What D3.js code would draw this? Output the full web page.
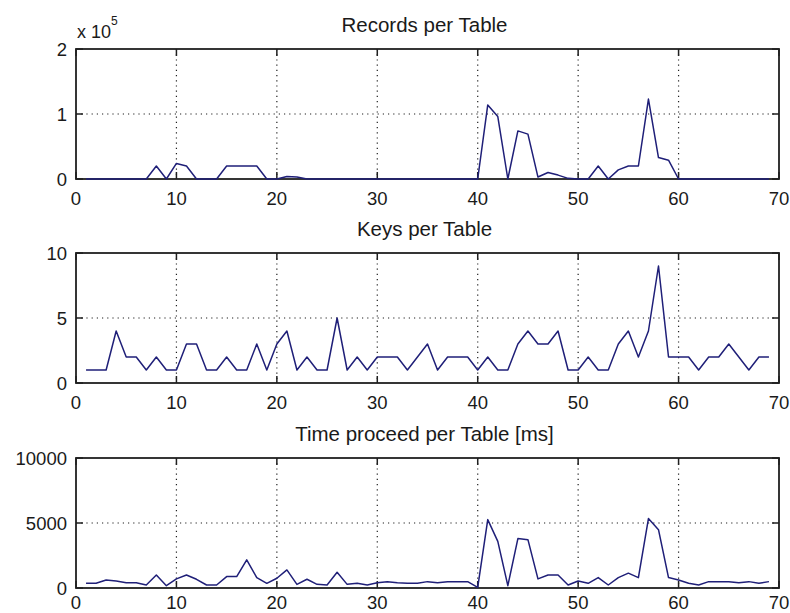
<!DOCTYPE html>
<html>
<head>
<meta charset="utf-8">
<script src="https://cdn.jsdelivr.net/npm/d3@7"></script>
<style>
  body { margin: 0; background: #fff; }
  text { font-family: "Liberation Sans", Arial, sans-serif; fill: #1a1a1a; }
</style>
</head>
<body>
<svg id="chart" width="790" height="613"></svg>
<script>
// table index on the x axis
const tableIds = [
  1, 2, 3, 4, 5, 6, 7, 8, 9, 10, 11, 12, 13, 14, 15, 16, 17, 18, 19, 20,
  21, 22, 23, 24, 25, 26, 27, 28, 29, 30, 31, 32, 33, 34, 35, 36, 37, 38, 39, 40,
  41, 42, 43, 44, 45, 46, 47, 48, 49, 50, 51, 52, 53, 54, 55, 56, 57, 58, 59, 60,
  61, 62, 63, 64, 65, 66, 67, 68, 69
];

const recordsPerTable = [
  0, 0, 0, 0, 0, 0, 0, 20000, 0, 24000,
  20000, 0, 0, 0, 20000, 20000, 20000, 20000, 0, 0,
  4000, 3000, 0, 0, 0, 0, 0, 0, 0, 0,
  0, 0, 0, 0, 0, 0, 0, 0, 0, 0,
  114000, 96000, 0, 74000, 69000, 3000, 10000, 6000, 1000, 0,
  0, 20000, 0, 14000, 20000, 20000, 123000, 33000, 29000, 0,
  0, 0, 0, 0, 0, 0, 0, 0, 0
];

const keysPerTable = [
  1, 1, 1, 4, 2, 2, 1, 2, 1, 1,
  3, 3, 1, 1, 2, 1, 1, 3, 1, 3,
  4, 1, 2, 1, 1, 5, 1, 2, 1, 2,
  2, 2, 1, 2, 3, 1, 2, 2, 2, 1,
  2, 1, 1, 3, 4, 3, 3, 4, 1, 1,
  2, 1, 1, 3, 4, 2, 4, 9, 2, 2,
  2, 1, 2, 2, 3, 2, 1, 2, 2
];

const timePerTable = [
  360, 360, 620, 540, 410, 410, 230, 1000, 180, 700,
  1000, 670, 230, 230, 880, 880, 2170, 800, 360, 750,
  1390, 280, 670, 280, 230, 1210, 280, 360, 230, 410,
  490, 410, 360, 360, 490, 410, 490, 490, 490, 50,
  5260, 3590, 180, 3800, 3720, 700, 1000, 1000, 230, 540,
  360, 800, 230, 800, 1140, 800, 5340, 4490, 800, 620,
  360, 230, 490, 490, 490, 410, 490, 360, 490
];

const xTicks = [0, 10, 20, 30, 40, 50, 60, 70];
const recordsTicks = [0, 100000, 200000];
const keysTicks = [0, 5, 10];
const timeTicks = [0, 5000, 10000];

const panelTitles = ["Records per Table", "Keys per Table", "Time proceed per Table [ms]"];

const lineColor = "#1f1f78";
const frameColor = "#202020";
const tickLen = 7;

const svg = d3.select("#chart");

const x = d3.scaleLinear().domain([0, 70]).range([76, 779]);

// one entry per subplot (labelGap: space between axis and x tick labels)
const panels = [
  { title: panelTitles[0], values: recordsPerTable, ticks: recordsTicks, top: 49, labelGap: 13, fmt: (d) => d / 100000, exponent: true },
  { title: panelTitles[1], values: keysPerTable, ticks: keysTicks, top: 253, labelGap: 13, fmt: (d) => d },
  { title: panelTitles[2], values: timePerTable, ticks: timeTicks, top: 458, labelGap: 8, fmt: (d) => d }
];

panels.forEach((p) => drawPanel(p));

function drawPanel({ title, values, ticks, top, labelGap, fmt, exponent }) {
  const height = 130;
  const bottom = top + height;
  const y = d3.scaleLinear().domain([ticks[0], ticks[ticks.length - 1]]).range([bottom, top]);
  const g = svg.append("g");

  // dotted grid, inner ticks only
  g.selectAll(".vgrid")
    .data(xTicks.slice(1, -1))
    .join("line")
    .attr("x1", (d) => x(d)).attr("x2", (d) => x(d))
    .attr("y1", top).attr("y2", bottom)
    .attr("stroke", frameColor).attr("stroke-width", 1.2)
    .attr("stroke-dasharray", "1.2,4");

  g.selectAll(".hgrid")
    .data(ticks.slice(1, -1))
    .join("line")
    .attr("x1", x(0)).attr("x2", x(70))
    .attr("y1", (d) => y(d)).attr("y2", (d) => y(d))
    .attr("stroke", frameColor).attr("stroke-width", 1.2)
    .attr("stroke-dasharray", "1.2,4");

  // inward tick marks on all four sides
  g.selectAll(".xtick")
    .data(xTicks.flatMap((t) => [[t, bottom, bottom - tickLen], [t, top, top + tickLen]]))
    .join("line")
    .attr("x1", (d) => x(d[0])).attr("x2", (d) => x(d[0]))
    .attr("y1", (d) => d[1]).attr("y2", (d) => d[2])
    .attr("stroke", frameColor).attr("stroke-width", 1.5);

  g.selectAll(".ytick")
    .data(ticks.flatMap((t) => [[t, x(0), x(0) + tickLen], [t, x(70), x(70) - tickLen]]))
    .join("line")
    .attr("x1", (d) => d[1]).attr("x2", (d) => d[2])
    .attr("y1", (d) => y(d[0])).attr("y2", (d) => y(d[0]))
    .attr("stroke", frameColor).attr("stroke-width", 1.5);

  // box around the axes
  g.append("rect")
    .attr("x", x(0)).attr("y", top)
    .attr("width", x(70) - x(0)).attr("height", height)
    .attr("fill", "none")
    .attr("stroke", frameColor)
    .attr("stroke-width", 1.8);

  // data line
  const line = d3.line()
    .x((d, i) => x(tableIds[i]))
    .y((d) => y(d));

  g.append("path")
    .datum(values)
    .attr("fill", "none")
    .attr("stroke", lineColor)
    .attr("stroke-width", 1.5)
    .attr("stroke-linejoin", "round")
    .attr("d", line);

  // tick labels
  g.selectAll(".xlab")
    .data(xTicks)
    .join("text")
    .attr("x", (d) => x(d))
    .attr("y", bottom + labelGap)
    .attr("dy", "0.71em")
    .attr("text-anchor", "middle")
    .attr("font-size", 18.5)
    .text((d) => d);

  g.selectAll(".ylab")
    .data(ticks)
    .join("text")
    .attr("x", x(0) - 9)
    .attr("y", (d) => y(d))
    .attr("dy", "0.36em")
    .attr("text-anchor", "end")
    .attr("font-size", 18.5)
    .text(fmt);

  g.append("text")
    .attr("x", (x(0) + x(70)) / 2 - 3)
    .attr("y", top - 17)
    .attr("text-anchor", "middle")
    .attr("font-size", 20.5)
    .text(title);

  if (exponent) {
    const t = g.append("text").attr("x", x(0) + 1).attr("y", top - 11).attr("font-size", 18);
    t.append("tspan").text("x 10");
    t.append("tspan").attr("dy", -13).attr("font-size", 12).text("5");
  }
}
</script>
</body>
</html>
